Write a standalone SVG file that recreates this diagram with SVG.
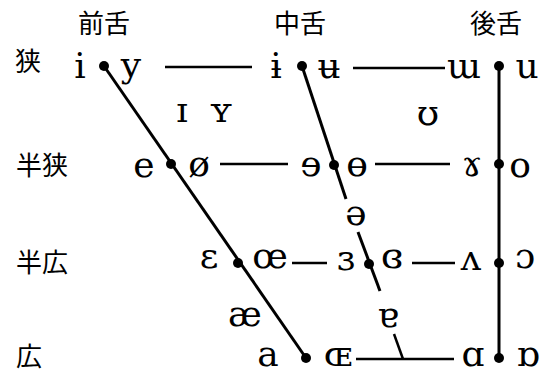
<svg xmlns="http://www.w3.org/2000/svg" width="542" height="374" viewBox="0 0 542 374">
<style>
.cjk{font-family:"Noto Sans CJK JP","Noto Sans CJK SC",sans-serif;font-size:26px;fill:#000}
.ipa{font-family:"DejaVu Serif","Liberation Serif",serif;font-size:36px;fill:#000;text-anchor:middle}
.ln{stroke:#000;stroke-width:2.5;fill:none}
.thick{stroke:#000;stroke-width:3;fill:none}
.dot{fill:#000}
</style>
<rect width="542" height="374" fill="#fff"/>
<g id="headers">
<text class="cjk" x="104" y="33" text-anchor="middle">前舌</text>
<text class="cjk" x="300" y="33" text-anchor="middle">中舌</text>
<text class="cjk" x="496" y="33" text-anchor="middle">後舌</text>
</g>
<g id="rowlabels">
<text class="cjk" x="15" y="71">狭</text>
<text class="cjk" x="16" y="175">半狭</text>
<text class="cjk" x="16" y="272">半広</text>
<text class="cjk" x="16" y="366">広</text>
</g>
<g id="connectors">
<line class="ln" x1="165" y1="67" x2="252" y2="67"/>
<line class="ln" x1="353" y1="68" x2="445" y2="68"/>
<line class="ln" x1="220" y1="164" x2="288" y2="164"/>
<line class="ln" x1="375" y1="164" x2="450" y2="164"/>
<line class="ln" x1="292" y1="263" x2="327" y2="263"/>
<line class="ln" x1="412" y1="263" x2="455" y2="263"/>
<line class="ln" x1="356" y1="359" x2="454" y2="359"/>
<line class="ln" x1="394" y1="334" x2="403" y2="359"/>
<line class="thick" x1="104" y1="66" x2="306" y2="358"/>
<line class="thick" x1="302" y1="66" x2="346" y2="199"/>
<line class="thick" x1="358" y1="232" x2="380" y2="291"/>
<line class="thick" x1="499" y1="66" x2="499" y2="358"/>
</g>
<g id="dots">
<circle class="dot" cx="104" cy="66" r="5"/>
<circle class="dot" cx="171" cy="164" r="5"/>
<circle class="dot" cx="238" cy="263" r="5"/>
<circle class="dot" cx="306" cy="358" r="5"/>
<circle class="dot" cx="302" cy="66" r="5"/>
<circle class="dot" cx="334" cy="165" r="5"/>
<circle class="dot" cx="369" cy="264" r="5"/>
<circle class="dot" cx="499" cy="66" r="5"/>
<circle class="dot" cx="499" cy="164" r="5"/>
<circle class="dot" cx="499" cy="263" r="5"/>
<circle class="dot" cx="499" cy="358" r="5"/>
</g>
<g id="vowels">
<text class="ipa" x="80" y="78">i</text>
<text class="ipa" x="131" y="77">y</text>
<text class="ipa" x="276" y="78">ɨ</text>
<text class="ipa" x="329" y="78">ʉ</text>
<text class="ipa" x="464" y="78">ɯ</text>
<text class="ipa" x="527" y="78">u</text>
<text class="ipa" x="182" y="122">ɪ</text>
<text class="ipa" x="221" y="122">ʏ</text>
<text class="ipa" x="428" y="125">ʊ</text>
<text class="ipa" x="144" y="177">e</text>
<text class="ipa" x="199" y="176">ø</text>
<text class="ipa" x="311" y="176">ɘ</text>
<text class="ipa" x="357" y="176">ɵ</text>
<text class="ipa" x="472" y="176">ɤ</text>
<text class="ipa" x="520" y="177">o</text>
<text class="ipa" x="356" y="225">ə</text>
<text class="ipa" x="209" y="268">ɛ</text>
<text class="ipa" x="270" y="268">œ</text>
<text class="ipa" x="346" y="270">ɜ</text>
<text class="ipa" x="392" y="268">ɞ</text>
<text class="ipa" x="471" y="270">ʌ</text>
<text class="ipa" x="525" y="268">ɔ</text>
<text class="ipa" x="245" y="326">æ</text>
<text class="ipa" x="388" y="327">ɐ</text>
<text class="ipa" x="268" y="366">a</text>
<text class="ipa" x="338" y="366">ɶ</text>
<text class="ipa" x="473" y="366">ɑ</text>
<text class="ipa" x="528" y="366">ɒ</text>
</g>
</svg>
